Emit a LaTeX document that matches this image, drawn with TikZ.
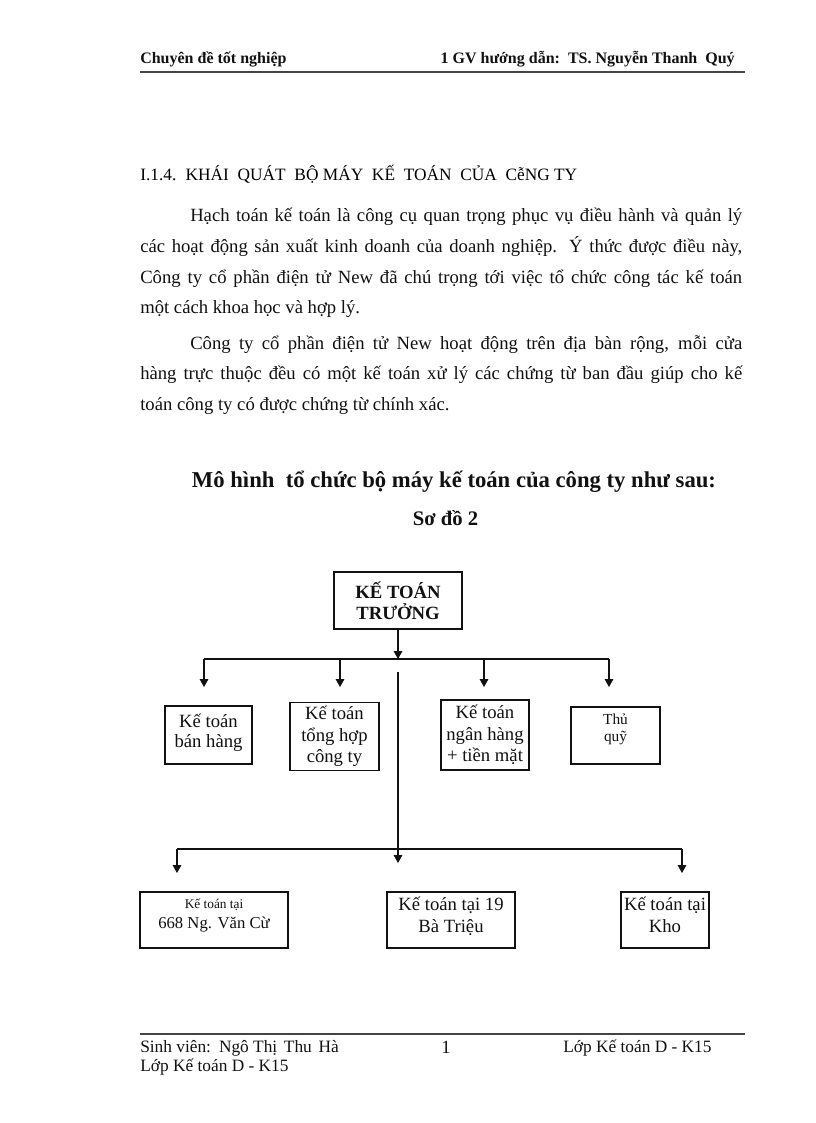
\documentclass[tikz,border=0pt]{standalone}
\usepackage{fontspec}
\setmainfont{Liberation Serif}
\usetikzlibrary{arrows.meta,positioning,calc}
\definecolor{inkdark}{HTML}{111111}
\definecolor{rulegray}{HTML}{444444}
\tikzset{
  unit/.style={draw=inkdark, line width=0.8pt, inner sep=1pt, align=center,
    text=inkdark, font=\fontsize{14}{16}\selectfont},
  link/.style={-{Triangle[length=6pt,width=6.5pt]}, line width=0.8pt, color=inkdark},
  wire/.style={line width=0.8pt, color=inkdark},
  pagerule/.style={line width=0.8pt, color=rulegray},
  runhead/.style={font=\fontsize{12}{14}\selectfont\bfseries, text=inkdark, inner sep=0pt},
  runfoot/.style={font=\fontsize{13}{15}\selectfont, text=inkdark, inner sep=0pt},
  body/.style={text width=451.5pt, align=justify, inner sep=0pt, text=inkdark,
    font=\fontsize{14}{23}\selectfont},
  caphead/.style={font=\fontsize{17}{19}\selectfont\bfseries, text=inkdark, inner sep=0pt},
}

\begin{document}
\begin{tikzpicture}[x=0.75pt,y=-0.75pt]
  \useasboundingbox[fill=white] (0,0) rectangle (816,1123);
  % running head
  \node[runhead, anchor=base west] (headl) at (140,64) {Chuyên đề tốt nghiệp};
  \node[runhead, anchor=base east] (headr) at (735,64) {1 GV hướng dẫn:\ \ TS. Nguyễn Thanh\ \ Quý};
  \draw[pagerule] (140,72) -- (745,72);

  % section text
  \node[anchor=base west, inner sep=0pt, font=\fontsize{13}{15}\selectfont] (sec) at (140,181)
    {I.1.4.\hspace{7pt}KHÁI\ \ QUÁT\ \ BỘ MÁY\ \ KẾ\ \ TOÁN\ \ CỦA\ \ CễNG TY};
  \node[body, anchor=base west] (para1) at (140,222)
    {\hspace*{37.5pt}Hạch toán kế toán là\ công cụ quan trọng phục vụ điều hành và quản lý\linebreak
     các hoạt động sản xuất kinh\ doanh của doanh nghiệp. Ý thức được điều này,\linebreak
     Công ty cổ phần điện tử New đã chú trọng tới việc tổ chức công tác kế toán\linebreak
     một cách khoa học và hợp lý.};
  \node[body, anchor=base west] (para2) at (140,349)
    {\hspace*{37.5pt}Công ty cổ phần điện tử New hoạt động trên địa bàn rộng, mỗi cửa\linebreak
     hàng trực thuộc đều có một kế toán xử lý các chứng từ ban đầu giúp cho kế\linebreak
     toán công ty có được chứng từ chính xác.};

  \node[caphead, anchor=base] (title) at (454,487)
    {Mô hình\ \ tổ chức bộ máy kế toán của công ty như sau:};
  \node[caphead, anchor=base, font=\fontsize{15.5}{18}\selectfont\bfseries] (chartno) at (445.5,525) {Sơ đồ 2};

  % chart
  \node[unit, minimum width=96pt, minimum height=42.75pt, font=\fontsize{14}{15.5}\selectfont\bfseries]
    (chief) at (398,600.5) {KẾ TOÁN\\TRƯỞNG};
  \node[unit, minimum width=65.25pt, minimum height=43.5pt, font=\fontsize{14}{15}\selectfont,
    text depth=6pt] (sales) at (208.5,735) {Kế toán\\bán hàng};
  \node[unit, minimum width=66.75pt, minimum height=51pt, font=\fontsize{14}{16}\selectfont]
    (general) at (334.5,736.5) {Kế toán\\tổng hợp\\công ty};
  \node[unit, minimum width=66pt, minimum height=52.5pt, font=\fontsize{14}{16}\selectfont]
    (bank) at (485,735) {Kế toán\\ngân hàng\\+ tiền mặt};
  \node[unit, minimum width=66.75pt, minimum height=42.75pt, font=\fontsize{11.5}{13}\selectfont,
    text depth=12pt] (cashier) at (615.5,735.5) {Thủ\\quỹ};
  \node[unit, minimum width=111pt, minimum height=42pt, font=\fontsize{12.5}{15}\selectfont,
    text depth=10pt] (store668) at (214,920) {{\fontsize{10}{15}\selectfont Kế toán tại}\\668 Ng. Văn Cừ};
  \node[unit, minimum width=96pt, minimum height=42pt, font=\fontsize{14}{16}\selectfont,
    text depth=8pt] (store19) at (451,920) {Kế toán tại 19\\Bà Triệu};
  \node[unit, minimum width=66pt, minimum height=42pt, font=\fontsize{14}{16}\selectfont,
    text depth=8pt] (storekho) at (665,920) {Kế toán tại\\Kho};

  % upper bus
  \coordinate (bus) at (398,659);
  \coordinate (busL) at (204,659);
  \coordinate (busR) at (609,659);
  \draw[link] (chief.south) -- (bus);
  \draw[wire] (busL) -- (busR);
  \foreach \x [count=\i] in {204,340,484,609} {
    \coordinate (drop\i) at (\x,659);
    \coordinate (tip\i) at (\x,687);
    \draw[link] (drop\i) -- (tip\i);
  }
  % trunk to the shops
  \coordinate (trunk) at (398,672);
  \coordinate (trunkend) at (398,863);
  \draw[link] (trunk) -- (trunkend);
  \coordinate (lowL) at (177,849);
  \coordinate (lowR) at (682,849);
  \coordinate (lowLtip) at (177,873);
  \coordinate (lowRtip) at (682,873);
  \draw[wire] (lowL) -- (lowR);
  \draw[link] (lowL) -- (lowLtip);
  \draw[link] (lowR) -- (lowRtip);

  % running foot
  \draw[pagerule] (140,1034) -- (745,1034);
  \node[runfoot, anchor=base west] (footl) at (140,1052) {Sinh viên:\hspace{6pt}Ngô Thị\hspace{5pt}Thu\hspace{5pt}Hà};
  \node[runfoot, anchor=base west] (footl2) at (140,1071) {Lớp Kế toán D - K15};
  \node[runfoot, anchor=base, font=\fontsize{14}{16}\selectfont] (pageno) at (446,1053) {1};
  \node[runfoot, anchor=base west] (footr) at (563,1052) {Lớp Kế toán D - K15};
\end{tikzpicture}
\end{document}
